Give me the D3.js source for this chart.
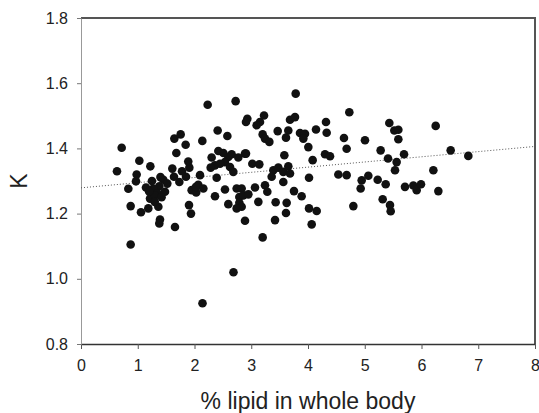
<!DOCTYPE html>
<html>
<head>
<meta charset="utf-8">
<script src="https://cdn.jsdelivr.net/npm/d3@7"></script>
<style>
  body { margin: 0; background: #fff; }
  svg { display: block; font-family: "Liberation Sans", Arial, sans-serif; }
</style>
</head>
<body>
<div id="chart"></div>
<script>
// % lipid in whole body (x) and condition factor K (y)
const lipid = [
  0.717, 1.645, 1.756, 1.844, 1.680, 1.028, 1.222, 0.634, 0.981, 0.969,
  0.834, 1.609, 1.909, 1.639, 1.733, 1.850, 1.451, 1.521, 1.380, 1.275,
  1.145, 1.480, 1.345, 1.216, 1.363, 1.186, 1.057, 0.875, 1.392, 1.380,
  1.656, 1.903, 1.938, 1.950, 0.875, 1.304,
  1.250, 1.400, 1.200, 1.420, 1.300, 1.780, 1.890, 2.067, 2.030,
  2.138, 2.232, 2.725, 3.783, 2.931, 2.907, 3.225, 3.154, 3.095, 3.683,
  3.771, 2.408, 2.579, 3.466, 3.653, 3.612, 3.201, 3.242, 3.319, 3.859,
  3.947, 3.918, 4.006,
  2.302, 2.420, 2.508, 2.596, 2.655, 2.537, 2.626, 2.684, 2.361, 2.285,
  2.772, 2.890, 3.019, 3.142, 3.583, 2.097, 2.026, 2.156, 2.391, 3.389,
  3.477, 3.565, 3.653, 3.683, 3.565, 3.360, 2.537, 2.361, 2.743, 2.831,
  2.790, 2.860, 2.949, 3.066, 3.242, 3.283, 2.596, 2.790, 2.831, 2.743,
  3.125, 3.430, 3.624, 3.612, 3.753, 3.888, 2.890, 3.419, 3.201,
  2.449, 2.907,
  4.728, 4.317, 4.329, 4.141, 5.433, 5.521, 5.592, 5.592, 4.634, 4.681,
  5.004, 5.280, 4.300, 4.388, 4.082, 5.410, 5.562, 5.533, 5.692, 4.018,
  4.535, 4.681, 4.946, 5.063, 4.928, 5.228, 5.369, 5.709, 5.856, 5.915,
  5.316, 5.445, 5.457, 4.799, 4.018, 4.153, 4.065,
  6.250, 6.514, 6.825, 6.209, 5.991, 6.297,
  2.141, 2.687
];
const kFactor = [
  1.402, 1.430, 1.443, 1.411, 1.386, 1.362, 1.345, 1.330, 1.320, 1.299,
  1.276, 1.338, 1.341, 1.313, 1.297, 1.313, 1.304, 1.292, 1.284, 1.277,
  1.280, 1.267, 1.262, 1.246, 1.221, 1.216, 1.204, 1.223, 1.182, 1.170,
  1.159, 1.226, 1.200, 1.272, 1.105, 1.256,
  1.300, 1.312, 1.268, 1.250, 1.236, 1.330, 1.360, 1.288, 1.265,
  1.423, 1.534, 1.545, 1.568, 1.491, 1.481, 1.501, 1.481, 1.471, 1.488,
  1.496, 1.455, 1.438, 1.453, 1.455, 1.433, 1.443, 1.430, 1.420, 1.447,
  1.445, 1.430, 1.404,
  1.372, 1.392, 1.386, 1.374, 1.382, 1.358, 1.343, 1.328, 1.348, 1.341,
  1.372, 1.384, 1.353, 1.351, 1.379, 1.318, 1.282, 1.277, 1.310, 1.333,
  1.341, 1.328, 1.345, 1.323, 1.297, 1.313, 1.274, 1.253, 1.277, 1.277,
  1.251, 1.256, 1.259, 1.280, 1.287, 1.267, 1.229, 1.233, 1.221, 1.216,
  1.236, 1.235, 1.233, 1.202, 1.269, 1.253, 1.178, 1.180, 1.127,
  1.353, 1.384,
  1.511, 1.481, 1.448, 1.458, 1.478, 1.455, 1.457, 1.428, 1.432, 1.399,
  1.425, 1.394, 1.382, 1.376, 1.364, 1.369, 1.358, 1.333, 1.382, 1.310,
  1.320, 1.318, 1.302, 1.316, 1.277, 1.304, 1.290, 1.282, 1.286, 1.272,
  1.244, 1.226, 1.207, 1.223, 1.216, 1.208, 1.167,
  1.469, 1.394, 1.377, 1.333, 1.290, 1.269,
  0.925, 1.020
];
// dotted regression line end points
const trendX = [0, 8];
const trendY = [1.279, 1.406];

const xTicks = [0, 1, 2, 3, 4, 5, 6, 7, 8];
const yTicks = [0.8, 1.0, 1.2, 1.4, 1.6, 1.8];

const margin = {top: 18, right: 4, bottom: 69, left: 81},
    width = 539 - margin.left - margin.right,
    height = 413 - margin.top - margin.bottom;

const svg = d3
    .select("#chart")
    .append("svg")
    .attr("width", 539)
    .attr("height", 413)
    .append("g")
    .attr("transform", `translate(${margin.left},${margin.top})`);

const x = d3.scaleLinear().domain([0, 8]).range([0, width]);
const y = d3.scaleLinear().domain([0.8, 1.8]).range([height, 0]);

// frame on top and right
svg.append("line")
    .attr("x1", 0).attr("x2", width)
    .attr("y1", 0).attr("y2", 0)
    .attr("stroke", "#555").attr("stroke-width", 2);
svg.append("line")
    .attr("x1", width).attr("x2", width)
    .attr("y1", -1).attr("y2", height)
    .attr("stroke", "#555").attr("stroke-width", 2);

const xAxis = svg.append("g")
    .attr("transform", `translate(0,${height})`)
    .call(d3.axisBottom(x).tickValues(xTicks).tickSize(5).tickPadding(11).tickSizeOuter(0));
xAxis.select(".domain").attr("stroke", "#333").attr("stroke-width", 1.5);
xAxis.selectAll(".tick line").attr("stroke", "#555");

const yAxis = svg.append("g")
    .call(d3.axisLeft(y).tickValues(yTicks).tickFormat(d3.format(".1f"))
        .tickSize(4).tickPadding(9).tickSizeOuter(0));
yAxis.select(".domain").attr("stroke", "#999").attr("stroke-width", 1);
yAxis.selectAll(".tick line").attr("stroke", "#777");

svg.selectAll(".tick text")
    .style("font-size", "16px")
    .attr("fill", "#222");

// regression line
svg.append("line")
    .attr("x1", x(trendX[0])).attr("y1", y(trendY[0]))
    .attr("x2", x(trendX[1])).attr("y2", y(trendY[1]))
    .attr("stroke", "#555")
    .attr("stroke-width", 1)
    .attr("stroke-dasharray", "1 2");

const points = lipid.map((d, i) => ({lipid: d, k: kFactor[i]}));

svg.append("g")
    .selectAll(".dot")
    .data(points)
    .join("circle")
    .attr("class", "dot")
    .attr("cx", (d) => x(d.lipid))
    .attr("cy", (d) => y(d.k))
    .attr("r", 4.3)
    .attr("fill", "#111");

svg.append("text")
    .attr("text-anchor", "middle")
    .attr("x", width / 2)
    .attr("y", height + 65)
    .style("font-size", "23px")
    .attr("fill", "#222")
    .text("% lipid in whole body");

svg.append("text")
    .attr("text-anchor", "middle")
    .attr("transform", "rotate(-90)")
    .attr("x", -height / 2)
    .attr("y", -54)
    .style("font-size", "23px")
    .attr("fill", "#222")
    .text("K");
</script>
</body>
</html>
